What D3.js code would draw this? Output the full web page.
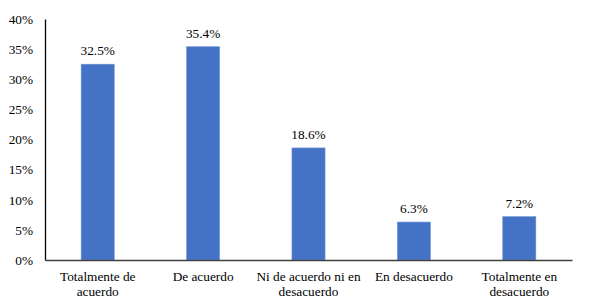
<!DOCTYPE html>
<html>
<head>
<meta charset="utf-8">
<script src="https://cdn.jsdelivr.net/npm/d3@7"></script>
<style>
  body { margin: 0; background: #fff; }
</style>
</head>
<body>
<svg id="chart"></svg>
<script>
const categories = [
  ["Totalmente de", "acuerdo"],
  ["De acuerdo"],
  ["Ni de acuerdo ni en", "desacuerdo"],
  ["En desacuerdo"],
  ["Totalmente en", "desacuerdo"]
];
const values = [32.5, 35.4, 18.6, 6.3, 7.2];
const yTicks = [0, 5, 10, 15, 20, 25, 30, 35, 40];

const FONT = '"Liberation Serif"';
const FS = "13.3px";
const width = 589, height = 308;
const margin = { top: 19, right: 17, bottom: 48, left: 45 };

const svg = d3.select("#chart")
  .attr("width", width)
  .attr("height", height);

const x = d3.scaleBand()
  .domain(d3.range(values.length))
  .range([margin.left, width - margin.right])
  .paddingInner(0.686)
  .paddingOuter(0.343);

const y = d3.scaleLinear()
  .domain([0, 40])
  .range([height - margin.bottom, margin.top]);

// bars
svg.append("g")
  .selectAll("rect")
  .data(values)
  .join("rect")
  .attr("x", (d, i) => x(i))
  .attr("y", d => y(d))
  .attr("width", x.bandwidth())
  .attr("height", d => y(0) - y(d))
  .attr("fill", "#4472C4")
  .attr("stroke", "#6f95d8")
  .attr("stroke-width", 0.6);

// value labels
svg.append("g")
  .selectAll("text")
  .data(values)
  .join("text")
  .attr("x", (d, i) => x(i) + x.bandwidth() / 2)
  .attr("y", d => y(d) - 9)
  .attr("text-anchor", "middle")
  .style("font-family", FONT)
  .style("font-size", FS)
  .attr("fill", "#000")
  .text(d => d.toFixed(1) + "%");

// y axis
const yAxis = svg.append("g")
  .attr("transform", `translate(${margin.left},0)`)
  .call(d3.axisLeft(y).tickValues(yTicks).tickSize(0).tickPadding(12).tickFormat(d => d + "%"));
yAxis.select(".domain").attr("stroke", "#000").attr("stroke-width", 1.3);
yAxis.selectAll("text")
  .style("font-family", FONT)
  .style("font-size", FS)
  .attr("fill", "#000");

// x axis
const xAxis = svg.append("g")
  .attr("transform", `translate(0,${y(0)})`)
  .call(d3.axisBottom(x).tickSize(0).tickFormat(""));
xAxis.select(".domain").attr("stroke", "#404040").attr("stroke-width", 1.3);

// category labels
const catLabels = svg.append("g")
  .selectAll("text")
  .data(categories)
  .join("text")
  .attr("x", (d, i) => x(i) + x.bandwidth() / 2)
  .attr("y", y(0) + 21)
  .attr("text-anchor", "middle")
  .style("font-family", FONT)
  .style("font-size", FS)
  .attr("fill", "#000");

catLabels.selectAll("tspan")
  .data((d, i) => d.map(t => ({ t, i })))
  .join("tspan")
  .attr("x", d => x(d.i) + x.bandwidth() / 2)
  .attr("dy", (d, j) => j === 0 ? 0 : 14.5)
  .text(d => d.t);
</script>
</body>
</html>
